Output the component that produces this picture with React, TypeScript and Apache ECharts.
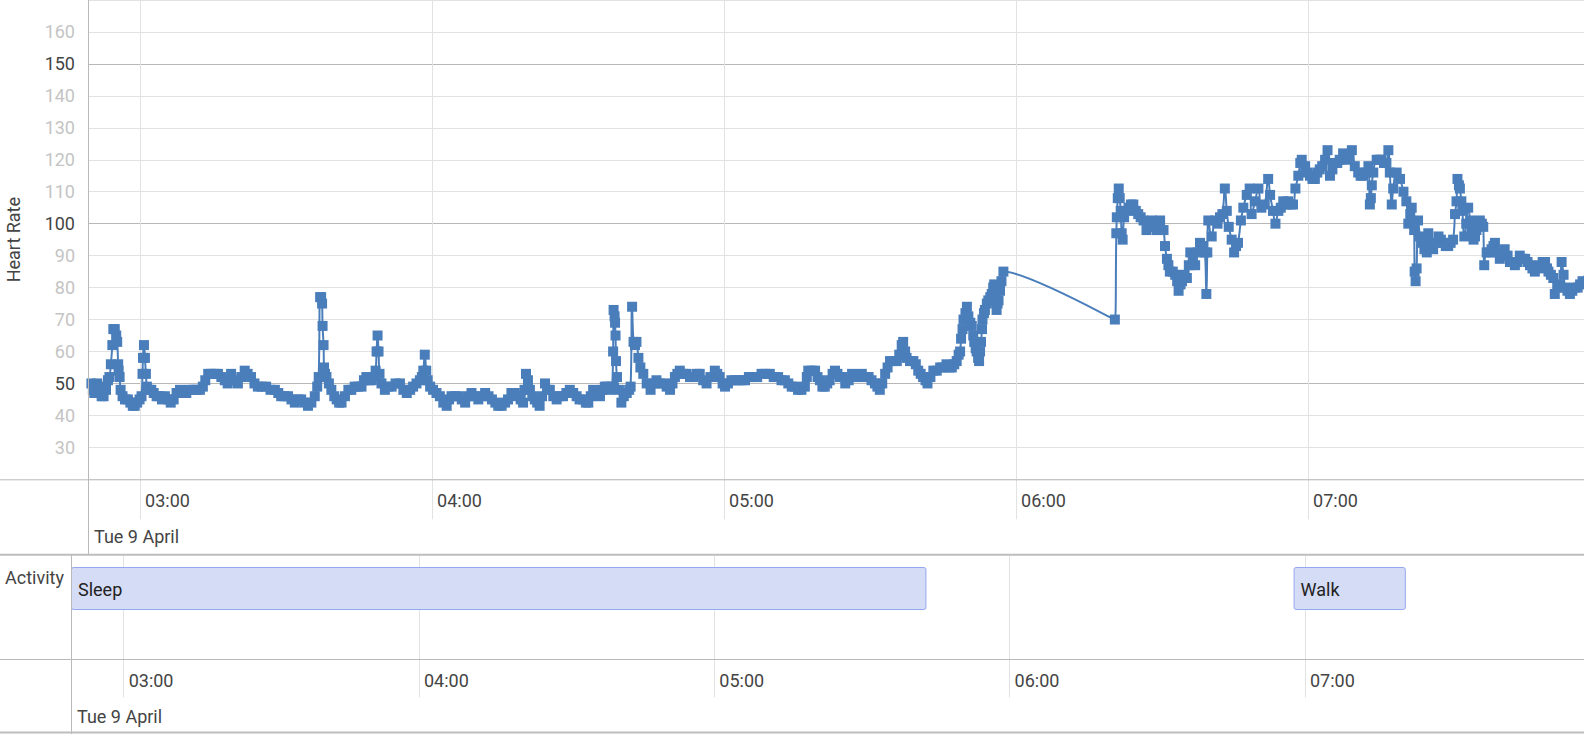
import React, { useEffect, useRef } from 'react';
import * as echarts from 'echarts';

// ---------- data ----------
const DATE_LABEL = 'Tue 9 April';
const Y_NAME = 'Heart Rate';
const ROW_LABEL = 'Activity';
const HOUR_TICKS = [180, 240, 300, 360, 420]; // minutes past midnight
const X_MIN = 169.3;
const X_MAX = 476.7;
const Y_MIN = 20;
const Y_MAX = 170;
const Y_STEP = 10;
const Y_MAJOR = [50, 100, 150];

const ACTIVITY_NAMES = ['Sleep', 'Walk'];
const ACTIVITY_START = [150, 417.7];
const ACTIVITY_END = [343.1, 440.5];

// [minutes past midnight, bpm]
const hrEarly: number[][] = [
  [170.0, 50], [170.3, 48], [170.6, 47], [170.9, 47], [171.2, 50], [171.7, 49], [172.1, 46], [172.5, 46], [173.0, 48], [173.4, 51],
  [173.7, 52], [174.0, 56], [174.3, 62], [174.5, 67], [174.8, 67], [175.1, 65], [175.3, 63], [175.5, 56], [175.6, 54], [175.8, 52],
  [176.0, 48], [176.4, 46], [176.9, 45], [177.5, 45], [178.0, 44], [178.5, 43], [178.9, 43], [179.4, 44], [179.9, 45], [180.3, 46],
  [180.5, 53], [180.6, 58], [180.8, 62], [181.0, 58], [181.2, 53], [181.4, 49], [181.8, 48], [182.3, 48], [182.8, 47], [183.4, 46],
  [184.0, 46], [184.5, 45], [185.1, 46], [185.7, 45], [186.3, 44], [186.9, 45], [187.5, 47], [188.2, 48], [188.8, 47], [189.5, 47],
  [190.2, 48], [190.9, 48], [191.6, 48], [192.3, 48], [192.9, 49], [193.4, 51], [194.0, 53], [194.6, 53], [195.3, 53], [196.0, 53],
  [196.7, 52], [197.4, 51], [198.0, 50], [198.7, 53], [199.4, 51], [200.1, 50], [200.8, 52], [201.5, 54], [202.1, 53], [202.8, 52],
  [203.5, 50], [204.2, 49], [205.0, 49], [205.9, 49], [206.8, 48], [207.7, 48], [208.4, 47], [209.0, 46], [209.7, 46], [210.4, 46],
  [211.1, 45], [211.8, 44], [212.5, 45], [213.1, 45], [213.8, 44], [214.5, 43], [215.2, 44], [215.9, 46], [216.4, 49], [216.7, 52],
  [217.0, 77], [217.2, 77], [217.4, 75], [217.5, 68], [217.7, 62], [217.8, 55], [218.0, 53], [218.3, 52], [218.8, 50], [219.3, 48],
  [219.9, 46], [220.4, 45], [220.9, 44], [221.4, 44], [222.1, 46], [222.8, 48], [223.4, 48], [224.1, 49], [224.8, 49], [225.5, 49],
  [226.0, 51], [226.5, 52], [227.0, 51], [227.6, 51], [228.1, 52], [228.4, 54], [228.6, 60], [228.8, 65], [229.0, 60], [229.2, 53],
  [229.6, 50], [230.3, 48], [231.0, 49], [231.7, 49], [232.5, 50], [233.4, 50], [234.1, 48], [234.8, 47], [235.5, 48], [236.1, 49],
  [236.8, 50], [237.5, 51], [237.9, 52], [238.2, 54], [238.5, 59], [238.8, 54], [239.1, 51], [239.6, 49], [240.2, 48], [240.9, 47],
  [241.6, 46], [242.3, 44], [243.0, 43], [243.5, 45], [244.0, 46], [244.7, 46], [245.4, 46], [246.1, 45],
];

const hrMidNight: number[][] = [
  [246.8, 44], [247.4, 46], [248.1, 47], [248.8, 46], [249.5, 45], [250.2, 46], [250.9, 47], [251.6, 46], [252.3, 45], [253.0, 44],
  [253.6, 43], [254.3, 43], [255.0, 44], [255.6, 45], [256.3, 47], [257.0, 47], [257.6, 46], [258.2, 45], [258.7, 44], [259.0, 48],
  [259.3, 53], [259.7, 51], [260.1, 48], [260.6, 46], [261.1, 45], [261.6, 44], [262.1, 43], [262.6, 46], [263.2, 50], [263.7, 48],
  [264.2, 48], [264.9, 46], [265.6, 45], [266.2, 46], [266.9, 46], [267.6, 47], [268.3, 48], [269.0, 47], [269.7, 46], [270.3, 45],
  [271.0, 45], [271.6, 44], [272.1, 44], [272.6, 46], [273.1, 48], [273.8, 47], [274.5, 46], [275.0, 48], [275.5, 49], [276.0, 49],
  [276.5, 48], [277.0, 49], [277.2, 60], [277.3, 73], [277.5, 71], [277.6, 69], [277.7, 65], [277.8, 57], [278.0, 52], [278.4, 48],
  [278.9, 44], [279.4, 46], [280.0, 47], [280.5, 48], [280.8, 49], [281.1, 74], [281.4, 63], [281.7, 62], [282.0, 63], [282.4, 58],
  [282.8, 55], [283.4, 53], [284.1, 50], [284.9, 48], [285.5, 50], [286.1, 51], [286.8, 50], [287.5, 50], [288.2, 49], [288.9, 48],
  [289.4, 50], [289.9, 52], [290.4, 53], [290.9, 54], [291.6, 53], [292.3, 53], [293.0, 52], [293.7, 52], [294.4, 53], [295.0, 53],
  [295.7, 51], [296.4, 50], [297.2, 52], [298.1, 54], [298.6, 53], [299.1, 52], [299.7, 50], [300.2, 49], [300.8, 50], [301.5, 51],
  [302.2, 51], [302.9, 51], [303.6, 51], [304.3, 51], [305.1, 52], [306.0, 52], [306.8, 52], [307.7, 53], [308.5, 53], [309.4, 53],
  [310.2, 52], [311.1, 52], [311.8, 51], [312.5, 51], [313.2, 50], [313.9, 49], [314.6, 49], [315.2, 48], [315.9, 48], [316.6, 49],
  [317.0, 52], [317.3, 54], [318.0, 54], [318.7, 54], [319.2, 52], [319.7, 51], [320.2, 49], [320.7, 49], [321.2, 50], [321.7, 51],
  [322.3, 53], [322.8, 54], [323.3, 53], [323.8, 52],
];

const hrWaking: number[][] = [
  [324.3, 52], [324.9, 50], [325.6, 51], [326.3, 53], [326.9, 52], [327.6, 52], [328.3, 53], [329.0, 52], [329.7, 52], [330.3, 51],
  [331.0, 50], [331.5, 49], [332.0, 48], [332.5, 50], [333.1, 53], [333.6, 55], [334.1, 57], [334.8, 57], [335.5, 57], [336.0, 59],
  [336.5, 62], [336.8, 63], [337.2, 60], [337.5, 58], [338.2, 57], [338.9, 57], [339.4, 56], [339.9, 54], [340.4, 53], [340.9, 52],
  [341.4, 51], [341.8, 50], [342.4, 52], [343.0, 54], [343.7, 54], [344.4, 55], [345.0, 55], [345.7, 56], [346.3, 55], [346.8, 55],
  [347.3, 56], [347.8, 57], [348.2, 59], [348.5, 60], [348.7, 64], [349.0, 67], [349.2, 70], [349.6, 72], [349.9, 74], [350.2, 71],
  [350.6, 69], [350.9, 68], [351.2, 65], [351.4, 63], [351.7, 61], [351.9, 60], [352.2, 58], [352.4, 57], [352.6, 60], [352.8, 63],
  [353.0, 67], [353.1, 70], [353.4, 72], [353.6, 73], [354.0, 75], [354.3, 76], [354.7, 77], [355.0, 78], [355.3, 80], [355.5, 81],
  [355.8, 77], [356.0, 73], [356.2, 75], [356.4, 76], [356.7, 79], [357.0, 82], [357.4, 85],
];

const hrMorning: number[][] = [
  [380.3, 70], [380.6, 97], [380.7, 102], [380.9, 108], [381.1, 111], [381.3, 108], [381.5, 104], [381.7, 97], [381.9, 95], [382.2, 102],
  [382.7, 104], [383.1, 105], [383.6, 106], [384.1, 106], [384.6, 104], [385.1, 103], [385.6, 102], [386.2, 101], [386.8, 98], [387.3, 99],
  [387.9, 101], [388.4, 100], [388.9, 98], [389.6, 101], [390.3, 98], [390.6, 93], [391.0, 89], [391.3, 87], [391.6, 85], [392.2, 85],
  [392.7, 84], [393.1, 82], [393.4, 79], [393.8, 81], [394.1, 82], [394.6, 84], [395.1, 83], [395.5, 87], [395.8, 91], [396.3, 88],
  [396.8, 87], [397.3, 91], [397.8, 94], [398.3, 93], [398.8, 91], [399.1, 78], [399.3, 91], [399.5, 101], [400.2, 96], [400.9, 101],
  [401.4, 100], [401.9, 102], [402.4, 103], [402.9, 111], [403.3, 104], [403.7, 99], [404.3, 95], [404.8, 91], [405.2, 93], [405.6, 94],
  [406.2, 101], [406.7, 105], [407.4, 109], [408.0, 111], [408.4, 103], [409.1, 107], [409.8, 111], [410.4, 105], [411.1, 106], [411.8, 114],
  [412.2, 109], [412.8, 104], [413.3, 100], [413.9, 104], [414.4, 105], [414.9, 107], [415.4, 106], [415.9, 107], [416.4, 106], [416.9, 106],
  [417.4, 111], [418.0, 115], [418.4, 119], [418.7, 120], [419.4, 118], [419.9, 116], [420.4, 115], [420.9, 114], [421.4, 114], [421.9, 116],
  [422.4, 117], [422.9, 118], [423.5, 120], [424.0, 123], [424.5, 115], [425.0, 117], [425.5, 119], [426.0, 119], [426.5, 120], [427.2, 122],
  [427.9, 120], [428.5, 121], [429.0, 123], [429.6, 118], [430.3, 116], [430.8, 115], [431.3, 115], [431.8, 116], [432.4, 118], [432.7, 106],
  [432.9, 108], [433.1, 112], [433.4, 116], [434.1, 120], [434.6, 120], [435.1, 120], [435.6, 119], [436.1, 119], [436.5, 123], [436.8, 116],
  [437.2, 106], [437.5, 111], [438.2, 116], [438.9, 114], [439.6, 110], [440.2, 107], [440.6, 100], [441.0, 103], [441.3, 105], [441.8, 98],
  [441.9, 85], [442.1, 82], [442.3, 86], [442.6, 101], [443.0, 96], [443.3, 94], [443.9, 92], [444.4, 91], [444.7, 97], [445.2, 94],
  [445.7, 92], [446.2, 94], [446.8, 96], [447.3, 95], [447.8, 94], [448.3, 93], [448.8, 93], [449.3, 94], [449.8, 95], [450.2, 103],
  [450.5, 107], [450.7, 114], [451.0, 112], [451.2, 111], [451.5, 107], [451.7, 104], [452.1, 96], [452.5, 100], [452.9, 105], [453.3, 101],
  [453.6, 98], [454.0, 95], [454.3, 96], [454.6, 98], [455.0, 100], [455.3, 101], [455.7, 100], [456.0, 99], [456.2, 87], [456.7, 91],
  [457.2, 91], [457.7, 92], [458.1, 93], [458.4, 94], [458.9, 91], [459.4, 89], [459.9, 90], [460.4, 92], [461.0, 90], [461.5, 88],
  [462.0, 88], [462.5, 87], [463.0, 88], [463.5, 90], [464.1, 89], [464.6, 89], [465.1, 88], [465.6, 87], [466.1, 86], [466.6, 85],
  [467.1, 86], [467.6, 87], [468.2, 88], [468.7, 88], [469.1, 86], [469.4, 85], [469.9, 84], [470.4, 83], [470.7, 78], [471.2, 80],
  [471.8, 81], [472.1, 88], [472.5, 84], [472.8, 80], [473.3, 79], [473.8, 78], [474.3, 79], [474.8, 80], [475.4, 80], [475.9, 81],
  [476.4, 82], [476.9, 84],
];

// ---------- layout / style ----------
const W = 1584;
const H = 734;
const FONT = 'Roboto, sans-serif';
const TOP_GRID = { left: 88, top: 0, height: 479.3 };
const BOT_GRID = { left: 71, top: 555.5, height: 104 };
const SEP_Y = 554.7;
const LINE_COLOR = '#b9b9b9';
const GRID_LIGHT = '#e2e2e2';
const GRID_DARK = '#b8b8b8';
const SERIES_COLOR = '#4a7ebb';

const fmtTime = (m: number) => {
  const h = Math.floor(m / 60);
  const mm = Math.round(m - h * 60);
  return `${String(h).padStart(2, '0')}:${String(mm).padStart(2, '0')}`;
};

export default function App() {
  const ref = useRef<HTMLDivElement>(null);
  useEffect(() => {
    document.body.style.margin = '0';
    if (!ref.current) return;
    const chart = echarts.init(ref.current, undefined, { renderer: 'svg' });
    const hrData = [...hrEarly, ...hrMidNight, ...hrWaking, ...hrMorning];
    const splitColors: string[] = [];
    for (let v = Y_MIN; v < Y_MIN + 5 * Y_STEP; v += Y_STEP) {
      splitColors.push(Y_MAJOR.includes(v) ? GRID_DARK : GRID_LIGHT);
    }
    const xAxisCommon = {
      type: 'value',
      min: X_MIN,
      max: X_MAX,
      axisLine: { show: false },
      splitLine: { show: true, lineStyle: { color: GRID_LIGHT, width: 1 } },
      axisLabel: {
        customValues: HOUR_TICKS,
        formatter: (v: number) => fmtTime(v),
        align: 'left',
        padding: [0, 0, 0, 5],
        fontSize: 18,
        color: '#444',
        fontFamily: FONT,
        margin: 12,
      },
    };
    chart.setOption({
      animation: false,
      textStyle: { fontFamily: FONT },
      grid: [
        { left: TOP_GRID.left, top: TOP_GRID.top, right: 0, height: TOP_GRID.height, outerBoundsMode: 'none', containLabel: false },
        { left: BOT_GRID.left, top: BOT_GRID.top, right: 0, height: BOT_GRID.height, outerBoundsMode: 'none', containLabel: false },
      ],
      xAxis: [
        {
          ...xAxisCommon,
          gridIndex: 0,
          axisTick: { show: true, customValues: HOUR_TICKS, length: 40, lineStyle: { color: GRID_LIGHT } },
        },
        {
          ...xAxisCommon,
          gridIndex: 1,
          axisTick: { show: true, customValues: HOUR_TICKS, length: 38, lineStyle: { color: GRID_LIGHT } },
        },
      ],
      yAxis: [
        {
          type: 'value',
          gridIndex: 0,
          min: Y_MIN,
          max: Y_MAX,
          interval: Y_STEP,
          name: Y_NAME,
          nameLocation: 'middle',
          nameRotate: 90,
          nameGap: 66,
          nameTextStyle: { fontSize: 18, color: '#444', fontFamily: FONT },
          axisLine: { show: false },
          axisTick: { show: false },
          splitLine: { show: true, lineStyle: { color: splitColors, width: 1 } },
          axisLabel: {
            showMinLabel: false,
            showMaxLabel: false,
            margin: 13,
            formatter: (v: number) => (Y_MAJOR.includes(v) ? `{d|${v}}` : `{l|${v}}`),
            rich: {
              d: { color: '#444', fontSize: 18, fontFamily: FONT },
              l: { color: '#c4c4c4', fontSize: 18, fontFamily: FONT },
            },
          },
        },
        {
          type: 'value',
          gridIndex: 1,
          min: 0,
          max: 1,
          show: false,
          splitLine: { show: false },
        },
      ],
      series: [
        {
          type: 'line',
          xAxisIndex: 0,
          yAxisIndex: 0,
          data: hrData,
          smooth: true,
          symbol: 'rect',
          symbolSize: 10,
          showSymbol: true,
          lineStyle: { color: SERIES_COLOR, width: 2 },
          itemStyle: { color: SERIES_COLOR },
          clip: true,
          z: 3,
        },
        {
          type: 'custom',
          xAxisIndex: 1,
          yAxisIndex: 1,
          data: ACTIVITY_START.map((s, i) => [s, ACTIVITY_END[i]]),
          encode: { x: [0, 1] },
          renderItem: (params: any, api: any) => {
            const cs = params.coordSys;
            const s = api.coord([api.value(0), 0]);
            const e = api.coord([api.value(1), 0]);
            const x0 = Math.max(s[0], cs.x);
            const x1 = Math.min(e[0], cs.x + cs.width);
            return {
              type: 'group',
              children: [
                {
                  type: 'rect',
                  shape: { x: x0 + 0.5, y: cs.y + 12, width: x1 - x0 - 1, height: 42, r: 2 },
                  style: { fill: '#d5dcf5', stroke: '#94a8ee', lineWidth: 1 },
                },
                {
                  type: 'text',
                  style: {
                    text: ACTIVITY_NAMES[params.dataIndex],
                    x: x0 + 7,
                    y: cs.y + 34,
                    verticalAlign: 'middle',
                    fill: '#222',
                    font: `18px ${FONT}`,
                  },
                },
              ],
            };
          },
          z: 3,
        },
      ],
      graphic: [
        // top panel frame
        { type: 'line', shape: { x1: TOP_GRID.left + 0.5, y1: 0, x2: TOP_GRID.left + 0.5, y2: SEP_Y }, style: { stroke: LINE_COLOR, lineWidth: 1 }, z: 5 },
        { type: 'line', shape: { x1: 0, y1: TOP_GRID.height + 0.5, x2: W, y2: TOP_GRID.height + 0.5 }, style: { stroke: LINE_COLOR, lineWidth: 1 }, z: 5 },
        // separator
        { type: 'line', shape: { x1: 0, y1: SEP_Y, x2: W, y2: SEP_Y }, style: { stroke: '#bdbdbd', lineWidth: 2 }, z: 5 },
        // bottom panel frame
        { type: 'line', shape: { x1: BOT_GRID.left + 0.5, y1: SEP_Y, x2: BOT_GRID.left + 0.5, y2: H }, style: { stroke: LINE_COLOR, lineWidth: 1 }, z: 5 },
        { type: 'line', shape: { x1: 0, y1: BOT_GRID.top + BOT_GRID.height, x2: W, y2: BOT_GRID.top + BOT_GRID.height }, style: { stroke: LINE_COLOR, lineWidth: 1 }, z: 5 },
        { type: 'line', shape: { x1: 0, y1: 732.5, x2: W, y2: 732.5 }, style: { stroke: '#bdbdbd', lineWidth: 2 }, z: 5 },
        // texts
        { type: 'text', x: 94, y: 536, style: { text: DATE_LABEL, fill: '#444', font: `18px ${FONT}`, verticalAlign: 'middle' } },
        { type: 'text', x: 77, y: 716, style: { text: DATE_LABEL, fill: '#444', font: `18px ${FONT}`, verticalAlign: 'middle' } },
        { type: 'text', x: 64, y: 577, style: { text: ROW_LABEL, fill: '#444', font: `18px ${FONT}`, align: 'right', verticalAlign: 'middle' } },
      ],
    });
    return () => chart.dispose();
  }, []);
  return <div ref={ref} style={{ width: W, height: H }} />;
}
